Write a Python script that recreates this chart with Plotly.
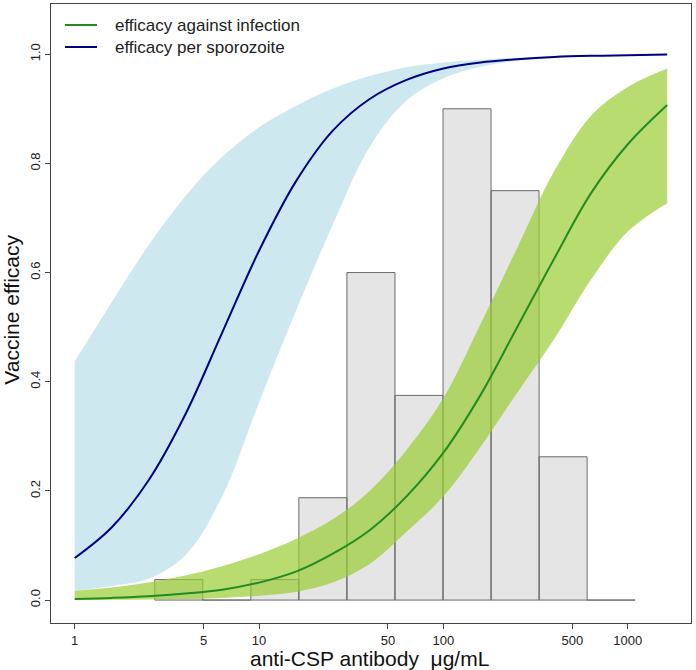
import plotly.graph_objects as go

# ---- data ----
conc = [1, 1.585, 2.512, 3.981, 6.310, 10.00, 15.85, 25.12, 39.81, 63.10,
        100.0, 158.5, 251.2, 398.1, 631.0, 1000, 1636]

sporo_mid = [0.077, 0.133, 0.219, 0.34, 0.49, 0.64, 0.767, 0.86, 0.918, 0.953,
             0.974, 0.985, 0.991, 0.995, 0.997, 0.998, 0.9995]
sporo_hi = [0.437, 0.545, 0.65, 0.74, 0.812, 0.866, 0.905, 0.937, 0.96, 0.976,
            0.985, 0.990, 0.9935, 0.996, 0.9975, 0.9985, 0.9993]
sporo_lo = [0.017, 0.026, 0.039, 0.082, 0.19, 0.362, 0.53, 0.688, 0.83, 0.915,
            0.956, 0.977, 0.988, 0.9933, 0.996, 0.9975, 0.9985]

inf_mid = [0.002, 0.004, 0.007, 0.012, 0.019, 0.032, 0.052, 0.085, 0.128, 0.19,
           0.27, 0.375, 0.5, 0.625, 0.745, 0.835, 0.907]
inf_hi = [0.017, 0.023, 0.032, 0.045, 0.062, 0.084, 0.112, 0.148, 0.2, 0.275,
          0.37, 0.505, 0.645, 0.785, 0.887, 0.94, 0.974]
inf_lo = [0.0, 0.0005, 0.001, 0.002, 0.004, 0.008, 0.015, 0.032, 0.066, 0.125,
          0.19, 0.28, 0.38, 0.478, 0.587, 0.675, 0.727]

hist_edges = [2.718, 4.953, 9.025, 16.44, 29.96, 54.60, 99.48, 181.3, 330.3, 601.8, 1096.6]
hist_heights = [0.0375, 0.0, 0.0375, 0.1875, 0.6, 0.375, 0.9, 0.75, 0.2625, 0.0]

x_ticks = [1, 5, 10, 50, 100, 500, 1000]
x_ticklabels = ["1", "5", "10", "50", "100", "500", "1000"]
y_ticks = [0, 0.2, 0.4, 0.6, 0.8, 1.0]
y_ticklabels = ["0.0", "0.2", "0.4", "0.6", "0.8", "1.0"]

legend_labels = ["efficacy against infection", "efficacy per sporozoite"]
x_title = "anti-CSP antibody \u00a0\u03bcg/mL"
y_title = "Vaccine efficacy"

# ---- figure ----
FONT = "Liberation Sans, Arial, sans-serif"
fig = go.Figure()

# histogram rectangles
hx, hy = [], []
for i, h in enumerate(hist_heights):
    a, b = hist_edges[i], hist_edges[i + 1]
    hx += [a, a, b, b, a, None]
    hy += [0, h, h, 0, 0, None]
fig.add_trace(go.Scatter(x=hx, y=hy, mode="lines", fill="toself",
                         fillcolor="#E5E5E5", line=dict(color="#6A6A6A", width=1),
                         showlegend=False, hoverinfo="skip"))

# infection band
fig.add_trace(go.Scatter(x=conc, y=inf_lo, mode="lines",
                         line=dict(width=0, shape="spline", color="rgba(0,0,0,0)"),
                         showlegend=False, hoverinfo="skip"))
fig.add_trace(go.Scatter(x=conc, y=inf_hi, mode="lines", fill="tonexty",
                         fillcolor="rgba(154,205,50,0.7)",
                         line=dict(width=0, shape="spline", color="rgba(0,0,0,0)"),
                         showlegend=False, hoverinfo="skip"))
# sporozoite band
fig.add_trace(go.Scatter(x=conc, y=sporo_lo, mode="lines",
                         line=dict(width=0, shape="spline", color="rgba(0,0,0,0)"),
                         showlegend=False, hoverinfo="skip"))
fig.add_trace(go.Scatter(x=conc, y=sporo_hi, mode="lines", fill="tonexty",
                         fillcolor="rgba(173,216,230,0.6)",
                         line=dict(width=0, shape="spline", color="rgba(0,0,0,0)"),
                         showlegend=False, hoverinfo="skip"))

# central lines
fig.add_trace(go.Scatter(x=conc, y=inf_mid, mode="lines", name=legend_labels[0],
                         line=dict(color="#228B22", width=2, shape="spline"),
                         showlegend=False))
fig.add_trace(go.Scatter(x=conc, y=sporo_mid, mode="lines", name=legend_labels[1],
                         line=dict(color="#000080", width=2, shape="spline"),
                         showlegend=False))

# manual legend (paper coords)
leg_colors = ["#228B22", "#000080"]
leg_y = [0.966, 0.9305]
for lab, col, yy in zip(legend_labels, leg_colors, leg_y):
    fig.add_shape(type="line", xref="paper", yref="paper",
                  x0=0.0219, x1=0.0719, y0=yy, y1=yy,
                  line=dict(color=col, width=2))
    fig.add_annotation(xref="paper", yref="paper", x=0.0969, y=yy,
                       text=lab, showarrow=False, xanchor="left", yanchor="middle",
                       font=dict(family=FONT, size=17, color="#222222"))

# axis titles as annotations (exact placement)
fig.add_annotation(xref="paper", yref="paper", x=0.498, y=-0.058,
                   text=x_title, showarrow=False, xanchor="center", yanchor="middle",
                   font=dict(family=FONT, size=21, color="#111111"))
fig.add_annotation(xref="paper", yref="paper", x=-0.061, y=0.506,
                   text=y_title, showarrow=False, textangle=-90,
                   xanchor="center", yanchor="middle",
                   font=dict(family=FONT, size=21, color="#111111"))

fig.update_layout(
    width=696, height=670,
    margin=dict(l=51, r=5, t=4, b=47, autoexpand=False),
    paper_bgcolor="white", plot_bgcolor="white",
    font=dict(family=FONT, size=13, color="#222222"),
    showlegend=False,
)
fig.update_xaxes(
    type="log", range=[-0.1286, 3.343], automargin=False,
    tickvals=x_ticks, ticktext=x_ticklabels,
    ticks="outside", ticklen=5, tickcolor="#444444",
    showgrid=False, zeroline=False,
    showline=True, mirror=True, linecolor="#444444", linewidth=1,
    tickfont=dict(family=FONT, size=13, color="#222222"),
)
fig.update_yaxes(
    range=[-0.042, 1.092], automargin=False,
    tickvals=y_ticks, ticktext=y_ticklabels, tickangle=-90,
    ticks="outside", ticklen=5, tickcolor="#444444",
    showgrid=False, zeroline=False,
    showline=True, mirror=True, linecolor="#444444", linewidth=1,
    tickfont=dict(family=FONT, size=13, color="#222222"),
)

fig.write_html("out.html",
               config={"displayModeBar": False},
               post_script="document.body.style.margin='0px';"
                           "document.body.style.overflow='hidden';")
